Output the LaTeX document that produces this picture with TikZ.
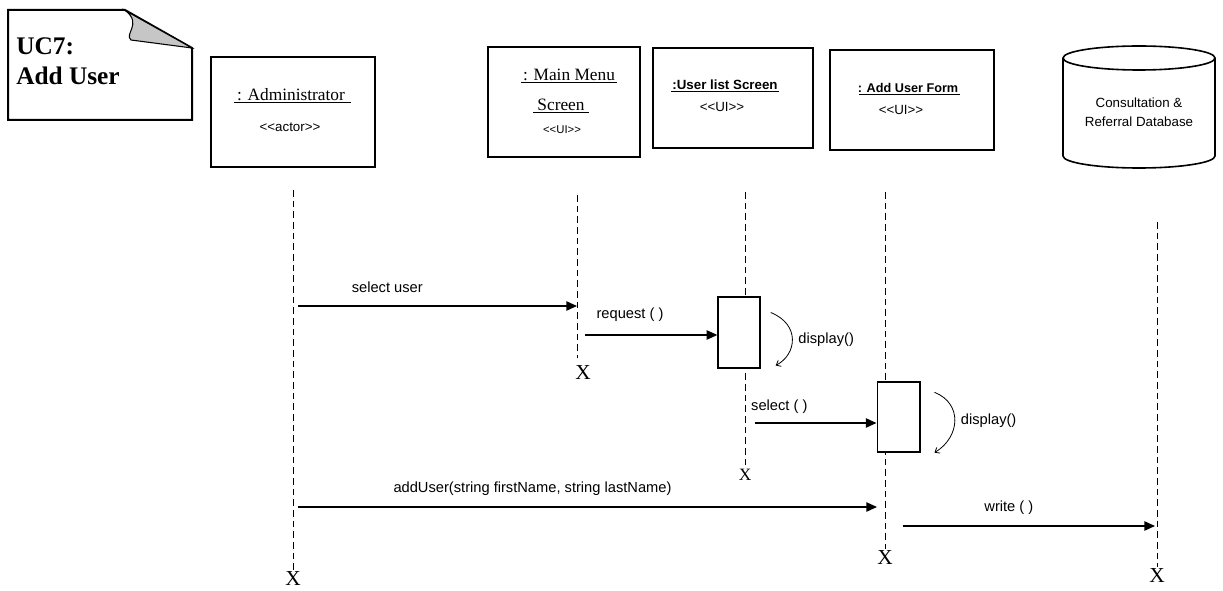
\documentclass[tikz,border=0pt]{standalone}
\usepackage{fontspec}
\setmainfont{Liberation Serif}
\setsansfont{Liberation Sans}
\usetikzlibrary{positioning, calc, arrows.meta}

\begin{document}
\begin{tikzpicture}[x=0.75pt, y=-0.75pt,
		headbox/.style={draw, rectangle, line width=1pt, inner sep=0pt},
		headname/.style={font=\fontsize{13}{15}\selectfont, inner sep=1pt},
		uiname/.style={font=\sffamily\bfseries\fontsize{10}{12}\selectfont, inner sep=1pt},
		stereo/.style={font=\sffamily\fontsize{10}{12}\selectfont, inner sep=1pt},
		lifeline/.style={dash pattern=on 5pt off 3pt, line width=0.7pt},
		actbox/.style={draw, fill=white, rectangle, line width=1pt, inner sep=0pt},
		msg/.style={-{Triangle[length=8pt, width=7pt]}, line width=1pt},
		selfmsg/.style={-{Straight Barb[length=3pt, width=5pt]}, line width=0.6pt},
		msglabel/.style={font=\sffamily\fontsize{11}{13}\selectfont},
		endx/.style={font=\fontsize{16}{18}\selectfont, inner sep=1pt},
	]
	\useasboundingbox (0,0) rectangle (1223,591);

	% use case note
	\draw[line width=1.5pt] (8,10) -- (125,10) -- (192,48) -- (192,120) -- (8,120) -- cycle;
	\filldraw[fill=gray!45, line width=0.8pt] (126,11) .. controls (142,24) and (124,34) .. (131,40)
	-- (192,48) -- cycle;
	\node[anchor=north west, align=left, inner sep=0pt,
		font=\bfseries\fontsize{19}{23}\selectfont] (uc) at (16,37) {UC7:\\Add User};

	% heads
	\node[headbox, minimum width=123pt, minimum height=82.5pt] (adm) at (293,112) {};
	\node[headname] (admname) at (291,95) {: Administrator};
	\draw ([xshift=-1pt]admname.south west) -- ([xshift=3pt]admname.south east);
	\node[stereo] (admst) at (290,127) {{<}{<}actor{>}{>}};

	\node[headbox, line width=2pt, minimum width=114pt, minimum height=82.5pt] (mm) at (564,102) {};
	\node[headname] (mmname) at (569,75) {: Main Menu};
	\draw (mmname.south west) -- (mmname.south east);
	\node[headname] (mmscr) at (561,105) {Screen};
	\draw ([xshift=-2pt]mmscr.south west) -- ([xshift=2pt]mmscr.south east);
	\node[stereo, font=\sffamily\fontsize{8.5}{10}\selectfont] (mmst) at (562,130) {{<}{<}UI{>}{>}};

	\node[headbox, minimum width=120pt, minimum height=75pt] (ul) at (733,98) {};
	\node[uiname] (ulname) at (725,85) {:User list Screen};
	\draw (ulname.south west) -- (ulname.south east);
	\node[stereo] (ulst) at (722,107) {{<}{<}UI{>}{>}};

	\node[headbox, minimum width=123pt, minimum height=75pt] (uf) at (912,100) {};
	\node[uiname, font=\sffamily\bfseries\fontsize{9.5}{11}\selectfont] (ufname) at (908,88) {: Add User Form};
	\draw ([xshift=2pt]ufname.south west) -- (ufname.south east);
	\node[stereo] (ufst) at (901,110) {{<}{<}UI{>}{>}};

	% database
	\draw[line width=1.2pt] (1063,58) -- (1063,156)
	arc[start angle=180, end angle=0, x radius=76, y radius=12] -- (1215,58);
	\draw[line width=1.2pt] (1139,58) ellipse[x radius=76, y radius=12];
	\node[align=center, font=\sffamily\fontsize{10}{14}\selectfont] (db) at (1139,112)
	{Consultation \&\\Referral Database};

	% lifelines
	\coordinate (admtop) at (293,190);
	\coordinate (mmtop) at (577,195);
	\coordinate (ultop) at (745,192);
	\coordinate (uftop) at (885,192);
	\coordinate (dbtop) at (1157,222);
	\node[endx] (admx) at (293,579) {X};
	\node[endx] (mmx) at (583,373) {X};
	\node[endx, font=\fontsize{13}{15}\selectfont] (ulx) at (745,475) {X};
	\node[endx] (ufx) at (885,558) {X};
	\node[endx] (dbx) at (1157,576) {X};
	\draw[lifeline] (admtop) -- (admtop |- admx.north);
	\draw[lifeline] (mmtop) -- (577,358);
	\draw[lifeline] (ultop) -- (ultop |- ulx.north);
	\draw[lifeline] (uftop) -- (uftop |- ufx.north);
	\draw[lifeline] (dbtop) -- (dbtop |- dbx.north);

	% activations
	\node[actbox, minimum width=31.5pt, minimum height=53pt] (ulact) at (739,332.5) {};
	\node[actbox, minimum width=32pt, minimum height=52.5pt] (ufact) at (898.5,417) {};

	% messages
	\coordinate (m1s) at (298,306);
	\coordinate (m1e) at (577,306);
	\draw[msg] (m1s) -- node[msglabel, above=6pt, pos=0.32] {select user} (m1e);

	\coordinate (m2s) at (585,335);
	\draw[msg] (m2s) -- node[msglabel, above=6pt, pos=0.34] {request ( )} (m2s -| ulact.west);

	\draw[selfmsg] ([shift={(10,16)}]ulact.north east) .. controls ([shift={(40,28)}]ulact.north east)
	and ([shift={(36,-14)}]ulact.south east) .. ([shift={(15,-3)}]ulact.south east)
	node[msglabel, pos=0.5, right=1pt] {display()};

	\coordinate (m3s) at (755,423);
	\draw[msg] (m3s) -- node[msglabel, above=3pt, pos=0.2] {select ( )} (m3s -| ufact.west);

	\draw[selfmsg] ([shift={(14,11)}]ufact.north east) .. controls ([shift={(42,22)}]ufact.north east)
	and ([shift={(40,-16)}]ufact.south east) .. ([shift={(14,0)}]ufact.south east)
	node[msglabel, pos=0.5, right=1pt] {display()};

	\coordinate (m4s) at (298,507);
	\coordinate (m4e) at (877,507);
	\draw[msg] (m4s) -- node[msglabel, above=5pt, pos=0.405] {addUser(string firstName, string lastName)} (m4e);

	\coordinate (m5s) at (903,526);
	\coordinate (m5e) at (1155,526);
	\draw[msg] (m5s) -- node[msglabel, above=5pt, pos=0.42] {write ( )} (m5e);
\end{tikzpicture}
\end{document}
